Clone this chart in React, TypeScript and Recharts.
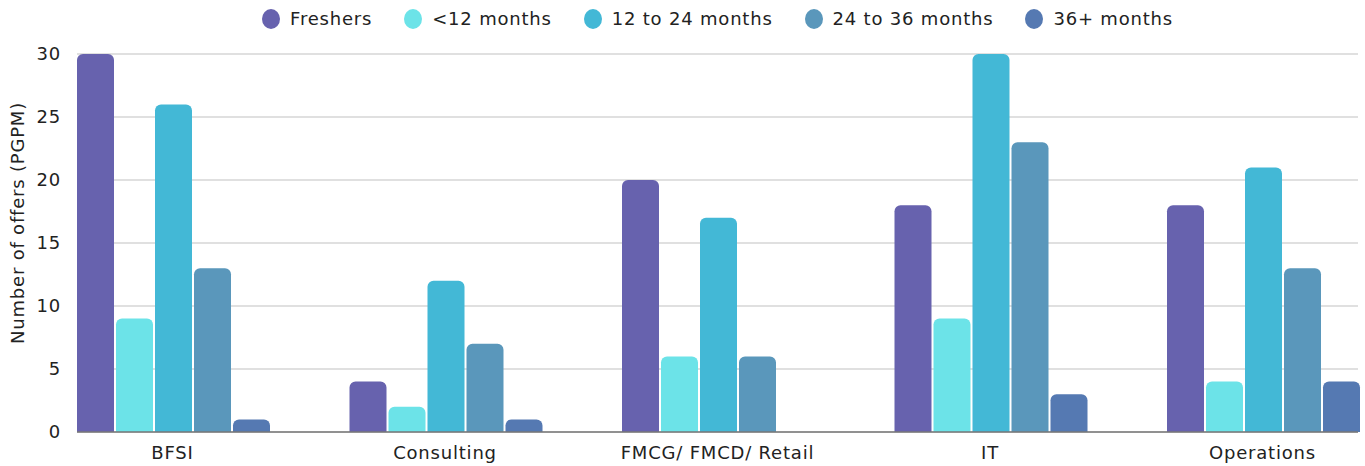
import { Bar, BarChart, CartesianGrid, XAxis, YAxis } from 'recharts'

const categories = ['BFSI', 'Consulting', 'FMCG/ FMCD/ Retail', 'IT', 'Operations']
const freshers = [30, 4, 20, 18, 18]
const under12 = [9, 2, 6, 9, 4]
const m12to24 = [26, 12, 17, 30, 21]
const m24to36 = [13, 7, 6, 23, 13]
const m36plus = [1, 1, 0, 3, 4]
const yTicks = [0, 5, 10, 15, 20, 25, 30]

const series = [
  { key: 'freshers', name: 'Freshers', color: '#6762AE' },
  { key: 'under12', name: '<12 months', color: '#6CE3E8' },
  { key: 'm12to24', name: '12 to 24 months', color: '#43B8D6' },
  { key: 'm24to36', name: '24 to 36 months', color: '#5A97BB' },
  { key: 'm36plus', name: '36+ months', color: '#5579B2' },
]

const data = categories.map((label, i) => ({
  label,
  freshers: freshers[i],
  under12: under12[i],
  m12to24: m12to24[i],
  m24to36: m24to36[i],
  m36plus: m36plus[i],
}))

const FONT = '"DejaVu Sans", sans-serif'
const FS = 18
const LS = 0.8
const textStyle = { fontSize: FS, fill: '#222', fontFamily: FONT, letterSpacing: LS }

function YLabel(props: any) {
  const { viewBox } = props
  const x = viewBox.x + 17
  const y = viewBox.y + viewBox.height / 2 - 20
  return (
    <text
      x={x}
      y={y}
      transform={`rotate(-90, ${x}, ${y})`}
      textAnchor="middle"
      dominantBaseline="central"
      style={textStyle}
    >
      Number of offers (PGPM)
    </text>
  )
}

export default function App() {
  return (
    <div style={{ position: 'absolute', left: 0, top: 0, width: 1365, height: 466, background: '#fff' }}>
      {/* legend centred over the plot area */}
      <div
        style={{
          position: 'absolute',
          top: 8,
          left: 77,
          width: 1281,
          display: 'flex',
          justifyContent: 'center',
          gap: 32,
          fontFamily: FONT,
          fontSize: FS,
          letterSpacing: LS,
          color: '#222',
          lineHeight: '22px',
        }}
      >
        {series.map((s) => (
          <div key={s.key} style={{ display: 'flex', alignItems: 'center' }}>
            <span
              style={{
                display: 'inline-block',
                width: 18,
                height: 20,
                borderRadius: '50%',
                background: s.color,
                marginRight: 10,
              }}
            />
            <span>{s.name}</span>
          </div>
        ))}
      </div>
      <BarChart
        width={1365}
        height={466}
        data={data}
        margin={{ top: 54, right: 7, left: 0, bottom: 4 }}
        barCategoryGap={40.75}
        barGap={2}
      >
        <CartesianGrid vertical={false} stroke="#D6D6D6" strokeWidth={1.5} />
        <XAxis
          dataKey="label"
          padding={{ left: -40.75, right: -40.75 }}
          tickLine={false}
          tickSize={0}
          tickMargin={14}
          stroke="#777"
          strokeWidth={1.5}
          tick={textStyle}
        />
        <YAxis
          width={77}
          domain={[0, 30]}
          ticks={yTicks}
          axisLine={false}
          tickLine={false}
          tickSize={0}
          tickMargin={16}
          tick={textStyle}
          label={<YLabel />}
        />
        {series.map((s) => (
          <Bar
            key={s.key}
            dataKey={s.key}
            name={s.name}
            fill={s.color}
            radius={[6, 6, 0, 0]}
            isAnimationActive={false}
          />
        ))}
      </BarChart>
    </div>
  )
}
